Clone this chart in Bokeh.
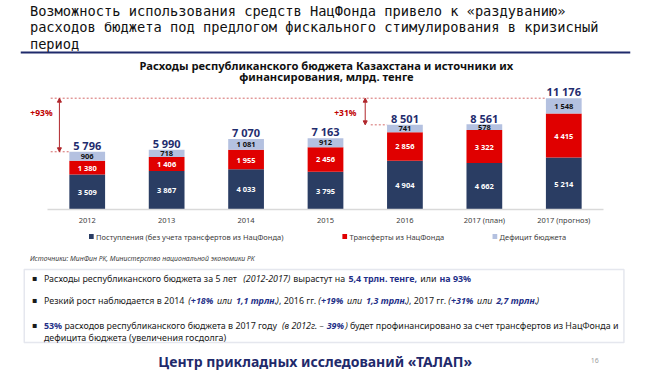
import numpy as np
from bokeh.plotting import figure
from bokeh.models import (ColumnDataSource, Range1d, FixedTicker, Span, BoxAnnotation,
                          Label, Arrow, NormalHead)
from bokeh.layouts import column
from bokeh.core.properties import value
from bokeh.embed import file_html
from bokeh.resources import INLINE

# ---------------- data ----------------
years = ["2012", "2013", "2014", "2015", "2016", "2017 (план)", "2017 (прогноз)"]
revenue = [3509, 3867, 4033, 3795, 4904, 4662, 5214]
transfers = [1380, 1406, 1955, 2456, 2856, 3322, 4415]
deficit = [906, 718, 1081, 912, 741, 578, 1548]
totals = [5796, 5990, 7070, 7163, 8501, 8561, 11176]
series_names = ["Поступления (без учета трансфертов из НацФонда)",
                "Трансферты из НацФонда", "Дефицит бюджета"]

title_lines = ["Возможность использования средств НацФонда привело к «раздуванию»",
               "расходов бюджета под предлогом фискального стимулирования в кризисный",
               "период"]
chart_title = ["Расходы республиканского бюджета Казахстана и источники их",
               "финансирования, млрд. тенге"]
source_text = "Источники: МинФин РК, Министерство национальной экономики РК"
bullet_lines = [
    [("Расходы республиканского бюджета за 5 лет ", "n"), ("(2012-2017)", "i"),
     (" вырастут на ", "n"), ("5,4 трлн. тенге,", "b"), (" или ", "n"), ("на 93%", "b")],
    [("Резкий рост наблюдается в 2014 ", "n"), ("(", "i"), ("+18%", "bi"), (" или ", "i"),
     ("1,1 трлн.", "bi"), (")", "i"), (", 2016 гг. ", "n"), ("(", "i"), ("+19%", "bi"),
     (" или ", "i"), ("1,3 трлн.", "bi"), (")", "i"), (", 2017 гг. ", "n"), ("(", "i"),
     ("+31%", "bi"), (" или ", "i"), ("2,7 трлн.", "bi"), (")", "i")],
    [("53%", "b"), (" расходов республиканского бюджета в 2017 году ", "n"),
     ("(в 2012г. – ", "i"), ("39%", "bi"), (")", "i"),
     (" будет профинансировано за счет трансфертов из НацФонда и", "n")],
    [("дефицита бюджета (увеличения госдолга)", "n")],
]
bullet_marks = [True, True, True, False]
footer_text = "Центр прикладных исследований «ТАЛАП»"
page_no = "16"

# ---------------- styles ----------------
W = 650
NAVY = "#1F2D6E"
C_REV, C_TR, C_DEF = "#2A3D63", "#E00000", "#B4C1E0"
RED_D = "#B0262B"
FONT = "Noto Sans"

# approximate advance widths for Noto Sans (em units)
_w = {' ': 0.26, '.': 0.268, ',': 0.258, '(': 0.303, ')': 0.303, '-': 0.322, '–': 0.5,
      '%': 0.826, '+': 0.572, ':': 0.268, '«': 0.497, '»': 0.497}
for d in "0123456789":
    _w[d] = 0.572
_w.update(dict(zip("абвгдеёжзийклмнопрстуфхцчшщъыьэюя",
                   [0.561, 0.603, 0.583, 0.46, 0.591, 0.564, 0.564, 0.852, 0.509, 0.667, 0.667,
                    0.576, 0.605, 0.778, 0.667, 0.603, 0.654, 0.613, 0.48, 0.491, 0.5, 0.8,
                    0.523, 0.673, 0.617, 0.943, 0.954, 0.66, 0.846, 0.572, 0.505, 0.86, 0.581])))
_w.update(dict(zip("АБВГДЕЖЗИЙКЛМНОПРСТУФХЦЧШЩЭЮЯ",
                   [0.639, 0.614, 0.653, 0.53, 0.71, 0.556, 0.983, 0.588, 0.743, 0.743, 0.638,
                    0.7, 0.873, 0.737, 0.78, 0.729, 0.603, 0.632, 0.556, 0.603, 0.83, 0.612,
                    0.756, 0.68, 1.06, 1.08, 0.64, 1.06, 0.65])))
_fac = {"n": 1.05, "i": 1.04, "b": 1.11, "bi": 1.13}


def text_width(s, size, style):
    tot = 0.0
    for ch in s:
        tot += _w.get(ch, 0.56) * (1.0 if ch == " " else _fac[style])
    return tot * size


def base_fig(h):
    p = figure(width=W, height=h, x_range=Range1d(0, W), y_range=Range1d(h, 0),
               x_axis_location=None, y_axis_location=None, title=None,
               toolbar_location=None, output_backend="svg",
               min_border_left=0, min_border_right=0, min_border_top=0, min_border_bottom=0)
    p.outline_line_color = None
    for g in p.grid:
        g.visible = False
    return p


# ---------------- header (page y 0..84) ----------------
pa = base_fig(84)
for i, t in enumerate(title_lines):
    pa.add_layout(Label(x=10, y=10 + 16.8 * i, text=t, text_font="DejaVu Sans Mono",
                        text_font_size="13.7px", text_color="#111111",
                        text_baseline="middle", text_align="left"))
pa.add_layout(Span(location=52, dimension="width", line_color="#1F2A6B", line_width=2))
for i, t in enumerate(chart_title):
    pa.add_layout(Label(x=326, y=64.5 + 11.7 * i, text=t, text_font=FONT,
                        text_font_size="11.2px", text_font_style="bold",
                        text_color="#111111", text_baseline="middle", text_align="center"))

# ---------------- chart (page y 84..229) ----------------
n = len(years)
pb = figure(width=W, height=145, x_range=Range1d(-0.84, n - 1 + 0.84),
            y_range=Range1d(-201, 12551), y_axis_location=None, title=None,
            toolbar_location=None, output_backend="svg",
            min_border_left=20, min_border_right=20, min_border_top=0, min_border_bottom=18)
pb.outline_line_color = None
pb.xgrid.grid_line_color = None
pb.ygrid.grid_line_color = None

src = ColumnDataSource(dict(x=list(range(n)), revenue=revenue, transfers=transfers,
                            deficit=deficit))
BW = 0.45
rs = pb.vbar_stack(["revenue", "transfers", "deficit"], x="x", width=BW,
                   fill_color=[C_REV, C_TR, C_DEF], line_color=None, source=src)

# baseline
pb.segment(x0=[-0.5], y0=[0], x1=[n - 0.5], y1=[0], line_color="#D9D9D9", line_width=1.5)

# segment labels
xs = np.arange(n)
stack = np.array([revenue, transfers, deficit], dtype=float)
bottoms = np.vstack([np.zeros(n), np.cumsum(stack, axis=0)[:-1]])
mids = bottoms + stack / 2
fmt = lambda v: f"{int(v):,}".replace(",", " ")
for k, col in enumerate(["#FFFFFF", "#FFFFFF", "#111111"]):
    pb.text(x=list(xs), y=list(mids[k]), text=[fmt(v) for v in stack[k]],
            text_color=col, text_font=value(FONT), text_font_style="bold",
            text_font_size="7.5px", text_align="center", text_baseline="middle")

# totals
pb.text(x=list(xs), y=totals, text=[fmt(v) for v in totals], y_offset=-6.2,
        text_color=NAVY, text_font=value(FONT), text_font_style="bold",
        text_font_size="11px", text_align="center", text_baseline="middle")

# growth annotations
top = totals[-1]
growth = [(0, 0.46, 0.35, 0.576, 0.73), (4, 0.43, 0.5, 0.75, 0.46)]
for i, lead, ax_off, lab_off, frac in growth:
    lo = totals[i]
    pb.segment(x0=[i - lead], y0=[lo], x1=[i - BW / 2], y1=[lo],
               line_color="#D46A6A", line_width=1, line_dash="2 2")
    pb.add_layout(Arrow(start=NormalHead(size=4, fill_color=RED_D, line_color=RED_D),
                        end=NormalHead(size=4, fill_color=RED_D, line_color=RED_D),
                        x_start=i - ax_off, y_start=lo, x_end=i - ax_off, y_end=top,
                        line_color=RED_D, line_width=1))
    pct = round((top / lo - 1) * 100)
    pb.text(x=[i - lab_off], y=[lo + frac * (top - lo)], text=[f"+{pct}%"],
            text_color="#C00000", text_font=value(FONT), text_font_style="bold",
            text_font_size="8.5px", text_align="center", text_baseline="middle")
pb.segment(x0=[-0.46], y0=[top], x1=[n - 1 - BW / 2], y1=[top],
           line_color="#D46A6A", line_width=1, line_dash="2 2")

# axis
ax = pb.xaxis[0]
ax.ticker = FixedTicker(ticks=list(range(n)))
ax.major_label_overrides = {i: y for i, y in enumerate(years)}
ax.axis_line_color = None
ax.major_tick_line_color = None
ax.minor_tick_line_color = None
ax.major_tick_out = 0
ax.major_tick_in = 0
ax.major_label_standoff = 3
ax.major_label_text_font = FONT
ax.major_label_text_font_size = "7.5px"
ax.major_label_text_color = "#404040"

# ---------------- legend strip (page y 229..245) ----------------
pd_ = base_fig(16)
leg_x = [75.5, 345.5, 505.5]
pd_.rect(x=leg_x, y=[7] * 3, width=5, height=5, fill_color=[C_REV, C_TR, C_DEF],
         line_color=None)
pd_.text(x=[v + 5 for v in leg_x], y=[7] * 3, text=series_names, text_color="#404040",
         text_font=value(FONT), text_font_size="7.5px", text_align="left",
         text_baseline="middle")

# ---------------- text block (page y 245..376) ----------------
pc = base_fig(131)
pc.add_layout(Label(x=10, y=13, text=source_text, text_font=FONT, text_font_size="6.9px",
                    text_font_style="italic", text_color="#404040",
                    text_baseline="middle", text_align="left"))
pc.add_layout(BoxAnnotation(left=4, right=643, top=24, bottom=97, fill_alpha=0,
                            line_color="#A8AEC6", line_width=1.5))
FS = 8.9
line_y = [33, 55, 80, 92]
styles = {"n": ("normal", "#1A1A1A"), "i": ("italic", "#1A1A1A"),
          "b": ("bold", "#1F3088"), "bi": ("bold italic", "#1F3088")}
for runs, yy, mark in zip(bullet_lines, line_y, bullet_marks):
    if mark:
        pc.add_layout(Label(x=12, y=yy, text="▪", text_font="DejaVu Sans", text_font_size="8px",
                            text_color="#1A1A1A", text_baseline="middle", text_align="left"))
    x = 25
    for txt, st in runs:
        fs, colr = styles[st]
        lead = len(txt) - len(txt.lstrip(" "))
        trail = len(txt) - len(txt.rstrip(" "))
        core = txt.strip(" ")
        x += lead * _w[" "] * FS
        if core:
            pc.add_layout(Label(x=x, y=yy, text=core, text_font=FONT, text_font_size=f"{FS}px",
                                text_font_style=fs, text_color=colr,
                                text_baseline="middle", text_align="left"))
            x += text_width(core, FS, st)
        x += trail * _w[" "] * FS

pc.add_layout(Label(x=314, y=116, text=footer_text, text_font=FONT, text_font_size="14px",
                    text_font_style="bold", text_color="#1F2A6B",
                    text_baseline="middle", text_align="center"))
pc.add_layout(Label(x=612, y=115, text=page_no, text_font=FONT, text_font_size="7px",
                    text_color="#A0A0A0", text_baseline="middle", text_align="center"))

layout = column(pa, pb, pd_, pc, spacing=0)
open("out.html", "w").write(file_html(layout, INLINE))
